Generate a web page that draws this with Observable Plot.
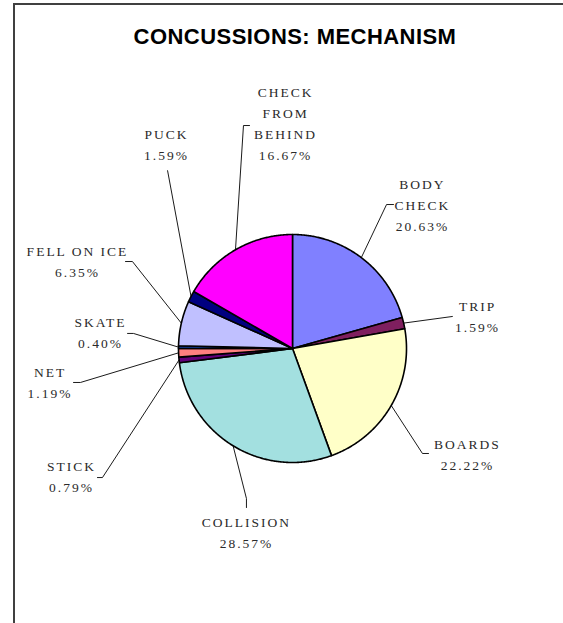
<!DOCTYPE html>
<html>
<head>
<meta charset="utf-8">
<script src="https://cdn.jsdelivr.net/npm/d3@7"></script>
<script src="https://cdn.jsdelivr.net/npm/@observablehq/plot@0.6"></script>
<style>
  html, body { margin: 0; padding: 0; background: #fff; overflow: hidden; }
  #page { position: relative; width: 563px; height: 623px; overflow: hidden; }
  #frameTop { position: absolute; left: 13px; top: 3px; width: 550px; height: 2px; background: #404040; }
  #frameLeft { position: absolute; left: 13px; top: 3px; width: 2px; height: 620px; background: #404040; }
  #title { position: absolute; left: 0; top: 24px; width: 590px; text-align: center;
           font: bold 22px "Liberation Sans", Arial, sans-serif; color: #000; letter-spacing: 0.45px; }
  #chart { position: absolute; left: 0; top: 60px; }
</style>
</head>
<body>
<div id="page">
  <div id="frameTop"></div>
  <div id="frameLeft"></div>
  <div id="title">CONCUSSIONS: MECHANISM</div>
  <div id="chart"></div>
</div>
<script>
// ---- data ----
const categories = ["BODY CHECK", "TRIP", "BOARDS", "COLLISION", "STICK", "NET", "SKATE", "FELL ON ICE", "PUCK", "CHECK FROM BEHIND"];
const labelLines = [["BODY", "CHECK"], ["TRIP"], ["BOARDS"], ["COLLISION"], ["STICK"], ["NET"], ["SKATE"], ["FELL ON ICE"], ["PUCK"], ["CHECK", "FROM", "BEHIND"]];
const values = [20.63, 1.59, 22.22, 28.57, 0.79, 1.19, 0.40, 6.35, 1.59, 16.67];
const colors = ["#8080FF", "#7F1F5F", "#FFFFC8", "#A3E0E0", "#62007A", "#FF8080", "#1040A0", "#C0C0FF", "#000080", "#FF00FF"];

// ---- layout (offsets in pie-radius units, y up) ----
const labelPos = [[1.140, 1.272], [1.623, 0.294], [1.535, -0.912], [-0.404, -1.596], [-1.939, -1.105],
                  [-2.127, -0.281], [-1.684, 0.154], [-1.886, 0.781], [-1.105, 1.803], [-0.061, 1.987]];
const leaderElbow = [[0.825, 1.263], [1.404, 0.281], [1.140, -0.921], [-0.404, -1.316], [-1.667, -1.132],
                     [-1.860, -0.298], [-1.395, 0.132], [-1.404, 0.763], [-1.096, 1.561], [-0.430, 1.956]];
const leaderEnd = [[0.886, 1.263], [1.404, 0.281], [1.193, -0.921], [-0.404, -1.395], [-1.711, -1.132],
                   [-1.921, -0.298], [-1.447, 0.132], [-1.465, 0.763], [-1.096, 1.561], [-0.377, 1.956]];

const W = 563, H = 563, R = 114, CX = 292, CY = 288;

const arcs = d3.pie().sort(null).startAngle(0).endAngle(2 * Math.PI)(values);

// slice polygons
const slicePts = [];
arcs.forEach((a, i) => {
  const name = categories[i];
  slicePts.push({name, x: 0, y: 0});
  const n = Math.max(2, Math.ceil((a.endAngle - a.startAngle) / (Math.PI / 360)) + 1);
  for (let k = 0; k < n; k++) {
    const t = a.startAngle + (a.endAngle - a.startAngle) * k / (n - 1);
    slicePts.push({name, x: Math.sin(t), y: Math.cos(t)});
  }
});

// leader lines
const leaderPts = [];
arcs.forEach((a, i) => {
  const m = (a.startAngle + a.endAngle) / 2;
  const name = categories[i];
  leaderPts.push({name, x: Math.sin(m), y: Math.cos(m)});
  leaderPts.push({name, x: leaderElbow[i][0], y: leaderElbow[i][1]});
  leaderPts.push({name, x: leaderEnd[i][0], y: leaderEnd[i][1]});
});

// labels
const labels = categories.map((c, i) => ({
  name: c,
  x: labelPos[i][0], y: labelPos[i][1],
  text: [...labelLines[i], values[i].toFixed(2) + "%"].join("\n")
}));

const chart = Plot.plot({
  width: W, height: H,
  marginTop: 0, marginRight: 0, marginBottom: 0, marginLeft: 0,
  x: {domain: [-CX / R, (W - CX) / R], axis: null},
  y: {domain: [(CY - H) / R, CY / R], axis: null},
  color: {domain: categories, range: colors},
  style: {background: "transparent", overflow: "visible"},
  marks: [
    Plot.line(leaderPts, {x: "x", y: "y", z: "name", stroke: "#000", strokeWidth: 0.9}),
    Plot.line(slicePts, {x: "x", y: "y", z: "name", fill: "name", stroke: "#000",
                         strokeWidth: 1.6, strokeLinejoin: "round", curve: "linear-closed"}),
    Plot.text(labels, {x: "x", y: "y", text: "text", textAnchor: "middle", lineAnchor: "middle",
                       lineHeight: 1.55, fontSize: 13.5, fill: "#2a2a2a",
                       fontFamily: "Liberation Serif, Times New Roman, serif"})
  ]
});
chart.querySelectorAll("text").forEach(t => t.setAttribute("letter-spacing", "2px"));
document.getElementById("chart").appendChild(chart);
</script>
</body>
</html>
